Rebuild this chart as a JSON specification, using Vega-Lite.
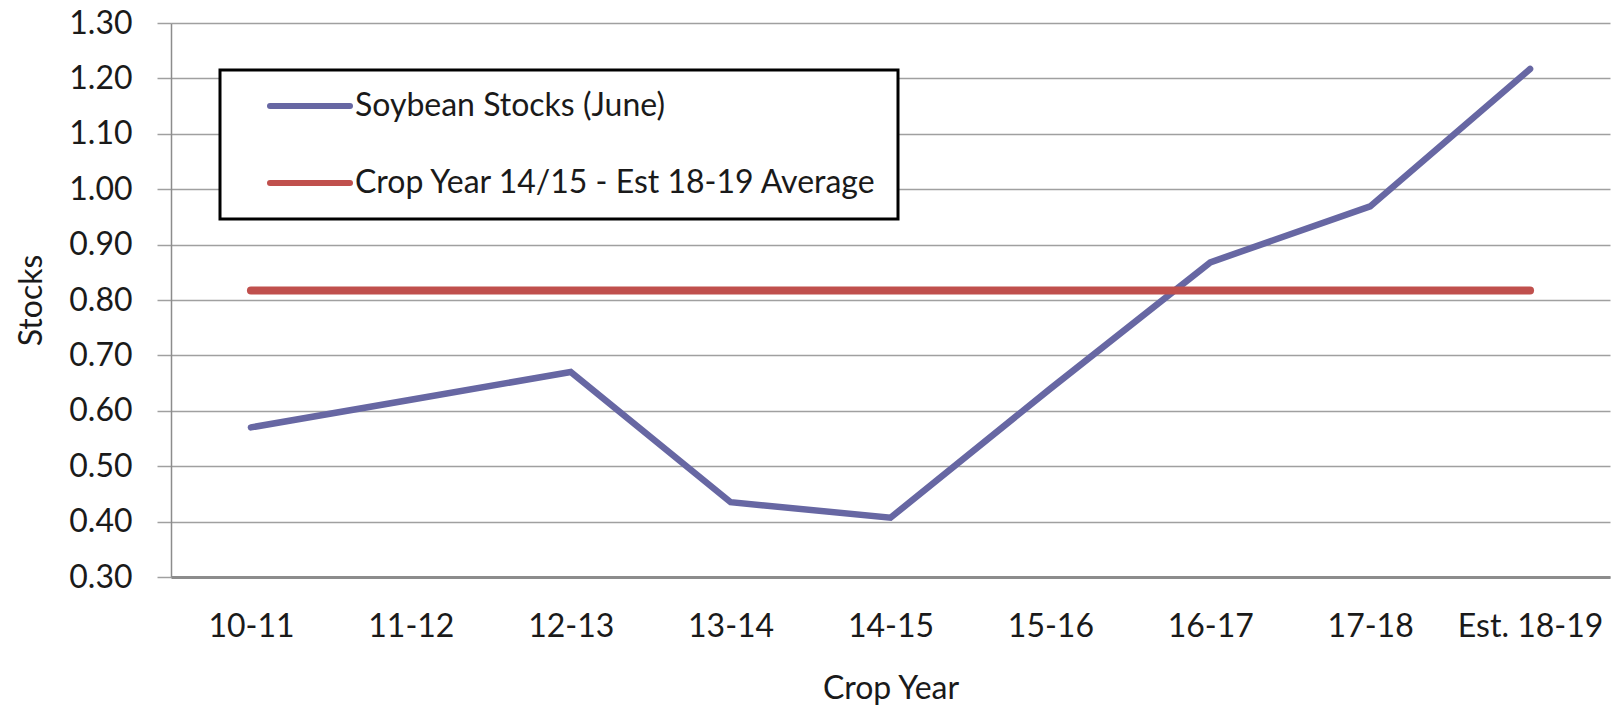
{
  "$schema": "https://vega.github.io/schema/vega-lite/v6.json",
  "width": 1439,
  "height": 554,
  "autosize": {"type": "none"},
  "padding": {"left": 171, "top": 23, "right": 14, "bottom": 131},
  "background": "white",
  "config": {
    "font": "Lato",
    "view": {"stroke": null},
    "axis": {"labelFont": "Lato", "titleFont": "Lato", "labelColor": "#1a1a1a", "titleColor": "#1a1a1a", "titleFontWeight": "normal"}
  },
  "data": {
    "values": [
      {"crop": "10-11", "value": 0.57, "series": "Soybean Stocks (June)"},
      {"crop": "11-12", "value": 0.62, "series": "Soybean Stocks (June)"},
      {"crop": "12-13", "value": 0.67, "series": "Soybean Stocks (June)"},
      {"crop": "13-14", "value": 0.435, "series": "Soybean Stocks (June)"},
      {"crop": "14-15", "value": 0.407, "series": "Soybean Stocks (June)"},
      {"crop": "15-16", "value": 0.64, "series": "Soybean Stocks (June)"},
      {"crop": "16-17", "value": 0.868, "series": "Soybean Stocks (June)"},
      {"crop": "17-18", "value": 0.969, "series": "Soybean Stocks (June)"},
      {"crop": "Est. 18-19", "value": 1.217, "series": "Soybean Stocks (June)"},
      {"crop": "10-11", "value": 0.817, "series": "Crop Year 14/15 - Est 18-19 Average"},
      {"crop": "11-12", "value": 0.817, "series": "Crop Year 14/15 - Est 18-19 Average"},
      {"crop": "12-13", "value": 0.817, "series": "Crop Year 14/15 - Est 18-19 Average"},
      {"crop": "13-14", "value": 0.817, "series": "Crop Year 14/15 - Est 18-19 Average"},
      {"crop": "14-15", "value": 0.817, "series": "Crop Year 14/15 - Est 18-19 Average"},
      {"crop": "15-16", "value": 0.817, "series": "Crop Year 14/15 - Est 18-19 Average"},
      {"crop": "16-17", "value": 0.817, "series": "Crop Year 14/15 - Est 18-19 Average"},
      {"crop": "17-18", "value": 0.817, "series": "Crop Year 14/15 - Est 18-19 Average"},
      {"crop": "Est. 18-19", "value": 0.817, "series": "Crop Year 14/15 - Est 18-19 Average"}
    ]
  },
  "encoding": {
    "x": {
      "field": "crop",
      "type": "ordinal",
      "sort": null,
      "scale": {"type": "point", "padding": 0.5},
      "axis": {
        "title": "Crop Year",
        "titleFontSize": 32,
        "titlePadding": 31,
        "labelFontSize": 32,
        "labelAngle": 0,
        "labelPadding": 34,
        "ticks": false,
        "domainColor": "#8c8c8c",
        "domainWidth": 3,
        "grid": false
      }
    },
    "y": {
      "field": "value",
      "type": "quantitative",
      "scale": {"domain": [0.3, 1.3], "nice": false, "zero": false},
      "axis": {
        "title": "Stocks",
        "titleFontSize": 32,
        "titlePadding": 20,
        "labelFontSize": 32,
        "labelPadding": 25,
        "format": ".2f",
        "values": [0.3, 0.4, 0.5, 0.6, 0.7, 0.8, 0.9, 1.0, 1.1, 1.2, 1.3],
        "tickSize": 14,
        "tickColor": "#a0a0a0",
        "tickWidth": 1.5,
        "grid": true,
        "gridColor": "#a0a0a0",
        "gridWidth": 1.5,
        "domainColor": "#8c8c8c",
        "domainWidth": 1.5
      }
    },
    "color": {
      "field": "series",
      "type": "nominal",
      "scale": {
        "domain": ["Soybean Stocks (June)", "Crop Year 14/15 - Est 18-19 Average"],
        "range": ["#6767a3", "#c0504d"]
      },
      "legend": {
        "title": null,
        "orient": "none",
        "legendX": 49,
        "legendY": 47,
        "direction": "vertical",
        "symbolType": "M-4,0L4,0",
        "symbolSize": 400,
        "symbolStrokeWidth": 6,
        "symbolOffset": 54,
        "labelOffset": 29,
        "labelFontSize": 32,
        "labelFont": "Lato",
        "labelColor": "#1a1a1a",
        "labelLimit": 0,
        "rowPadding": 45,
        "padding": 20,
        "strokeColor": "#000000",
        "fillColor": "white",
        "encode": {
          "legend": {"update": {"strokeWidth": {"value": 3}}},
          "symbols": {"update": {"strokeCap": {"value": "round"}}}
        }
      }
    }
  },
  "layer": [
    {
      "transform": [{"filter": "datum.series === 'Soybean Stocks (June)'"}],
      "mark": {"type": "line", "strokeWidth": 6.5, "strokeCap": "round", "strokeJoin": "miter"}
    },
    {
      "transform": [{"filter": "datum.series === 'Crop Year 14/15 - Est 18-19 Average'"}],
      "mark": {"type": "line", "strokeWidth": 8, "strokeCap": "round"}
    }
  ]
}
